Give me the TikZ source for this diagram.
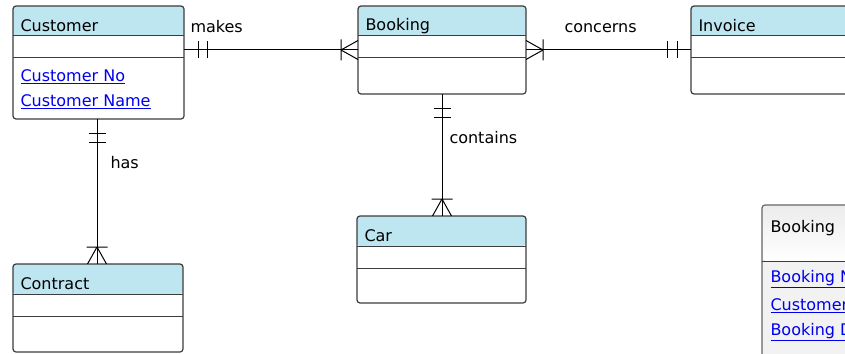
\documentclass[tikz,border=0pt]{standalone}
\usepackage{fontspec}
\setmainfont{DejaVu Sans}
\usetikzlibrary{calc,positioning}
\definecolor{headblue}{RGB}{190,230,240}
\definecolor{boxline}{RGB}{60,60,60}
\definecolor{linkblue}{RGB}{0,0,238}
\tikzset{
  entbox/.style={draw=boxline,line width=1.2pt,rounded corners=3pt,inner sep=0pt,outer sep=0pt},
  attr/.style={anchor=west,inner sep=0pt,text=linkblue},
  rel/.style={inner sep=0pt},
  twobar/.pic={\draw (-14,-8.5)--(-14,8.5) (-23.5,-8.5)--(-23.5,8.5);},
  crow/.pic={\draw (-17,0)--(0,-9.5) (-17,0)--(0,9.5) (-17,-10.5)--(-17,10.5);}
}
\begin{document}
\begin{tikzpicture}[x=1pt,y=-1pt,line width=1pt,font=\fontsize{16}{19}\selectfont]
\useasboundingbox (0,0) rectangle (845,353);
\clip (0,0) rectangle (845,353);
\foreach \n/\x/\y/\w/\h/\titulo in {cust/13/6/171/113/Customer,book/358/6/168/88/Booking,
  inv/691/6/200/88/Invoice,contr/13/264/170/88/Contract,car/357/216/169/87/Car}{
\fill[headblue,rounded corners=3pt] (\x,\y) rectangle ++(\w,30);
\node[entbox,anchor=north west,minimum width=\w pt,minimum height=\h pt] (\n) at (\x,\y) {};
\node[anchor=west,inner sep=0pt] (\n-t) at ([xshift=7pt,yshift=-20pt]\n.north west) {\titulo};
\draw[boxline] ([yshift=-30pt]\n.north west) -- ([yshift=-30pt]\n.north east);
\draw[boxline] ([yshift=-52pt]\n.north west) -- ([yshift=-52pt]\n.north east);
}
\node[attr] (cust-a1) at (20,77) {\underline{Customer No}};
\node[attr] (cust-a2) at (20,101.5) {\underline{Customer Name}};
% view box at the right
\node[entbox,draw=gray!80!black,fill=gray!10,anchor=north west,minimum width=120pt,minimum height=170pt] (view) at (762,205) {};
\shade[top color=gray!15,bottom color=white,rounded corners=3pt] ([shift={(1pt,-1pt)}]view.north west) rectangle ([shift={(-1pt,-56pt)}]view.north east);
\draw[boxline] ([yshift=-56pt]view.north west) -- ([yshift=-56pt]view.north east);
\node[anchor=west,inner sep=0pt] (view-t) at ([xshift=8pt,yshift=-23pt]view.north west) {Booking};
\node[attr] (view-a1) at (770,279) {\underline{Booking No}};
\node[attr] (view-a2) at (770,306) {\underline{Customer No}};
\node[attr] (view-a3) at (770,332.5) {\underline{Booking Date}};
% connector ends
\coordinate (cust-r) at ([yshift=-44pt]cust.north east);
\coordinate (book-l) at ([yshift=-44pt]book.north west);
\coordinate (book-r) at ([yshift=-44pt]book.north east);
\coordinate (inv-l) at ([yshift=-44pt]inv.north west);
\coordinate (cust-b) at ([xshift=84pt]cust.south west);
\coordinate (contr-t) at ([xshift=84pt]contr.north west);
\coordinate (book-b) at ([xshift=84pt]book.south west);
\coordinate (car-t) at ([xshift=85pt]car.north west);
\draw (cust-r) -- (book-l);
\draw (book-r) -- (inv-l);
\draw (cust-b) -- (contr-t);
\draw (book-b) -- (car-t);
\pic[rotate=180] at (cust-r) {twobar};
\pic at (book-l) {crow};
\pic[rotate=180] at (book-r) {crow};
\pic at (inv-l) {twobar};
\pic[rotate=90] at (cust-b) {twobar};
\pic[rotate=-90] at (contr-t) {crow};
\pic[rotate=90] at (book-b) {twobar};
\pic[rotate=-90] at (car-t) {crow};
\node[rel,above right=17pt and 6pt of cust-r] (makes) {makes};
\node[rel,above right=17pt and 38pt of book-r] (concerns) {concerns};
\node[rel,below right=37pt and 13pt of cust-b] (has) {has};
\node[rel,below right=37pt and 7pt of book-b] (contains) {contains};
\end{tikzpicture}
\end{document}
